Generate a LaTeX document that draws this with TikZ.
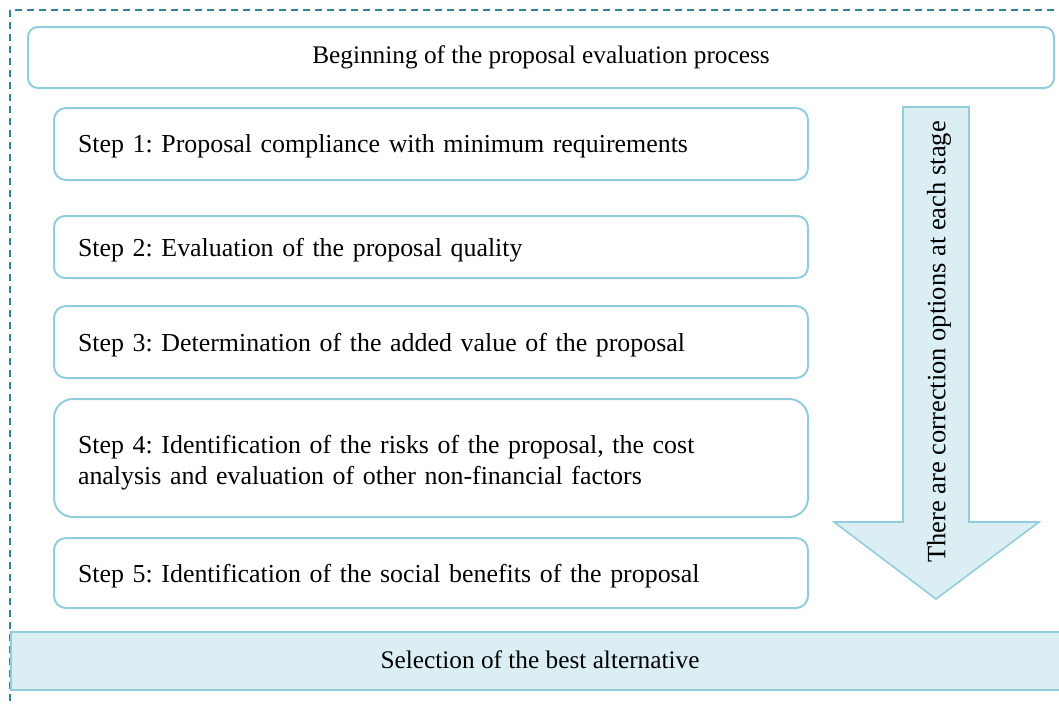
\documentclass[tikz,border=0pt]{standalone}
\usepackage{fontspec}
\setmainfont{Liberation Serif}
\definecolor{bord}{HTML}{31849B}
\definecolor{boxline}{HTML}{92CDDC}
\definecolor{boxfill}{HTML}{DAEEF3}
\frenchspacing
\begin{document}
\begin{tikzpicture}[x=1pt,y=-1pt,
  stepbox/.style={draw=boxline, line width=2pt, minimum width=754pt,
    text width=706pt, inner xsep=24pt, inner ysep=0pt, align=left,
    text depth=0pt, font=\fontsize{25.9}{30.5}\selectfont\frenchspacing},
  headbox/.style={draw=boxline, line width=2pt, rounded corners=10pt,
    minimum width=1026pt, minimum height=61pt, inner sep=0pt,
    font=\fontsize{25.3}{30}\selectfont},
  barbox/.style={draw=boxline, fill=boxfill, line width=2pt,
    minimum width=1059pt, minimum height=58pt, inner sep=0pt},
  bartext/.style={inner sep=0pt, font=\fontsize{25.3}{30}\selectfont},
  arrowshape/.style={draw=boxline, fill=boxfill, line width=1.6pt},
  sidetext/.style={inner sep=0pt, rotate=90, font=\fontsize{26.5}{31}\selectfont},
  frame/.style={draw=bord, line width=2.2pt, dash pattern=on 7pt off 5pt}]
\useasboundingbox (0,0) rectangle (1059,705);
\clip (0,0) rectangle (1059,705);
\draw[frame] (10,10) rectangle (1090,730);
\node[headbox] (head) at (541,57.5) {Beginning of the proposal evaluation process};
\node[stepbox, rounded corners=12pt, minimum height=72pt] (s1) at (431,144) {Step 1: Proposal compliance with minimum requirements};
\node[stepbox, rounded corners=11pt, minimum height=62pt] (s2) at (431,247) {Step 2: Evaluation of the proposal quality};
\node[stepbox, rounded corners=12pt, minimum height=72pt] (s3) at (431,342) {Step 3: Determination of the added value of the proposal};
\node[stepbox, text depth=27pt, rounded corners=19pt, minimum height=118pt] (s4) at (431,458) {Step 4: Identification of the risks of the proposal, the cost\\analysis and evaluation of other non-financial factors};
\node[stepbox, rounded corners=12pt, minimum height=70pt] (s5) at (431,573) {Step 5: Identification of the social benefits of the proposal};
\draw[arrowshape] (903,107) coordinate (a1) -- (969,107) -- (969,522) -- (1039,522) -- (936,599) coordinate (tip) -- (834,522) -- (903,522) -- cycle;
\node[sidetext] (side) at (939,342) {There are correction options at each stage};
\node[barbox] (bar) at (540.5,661) {};
\node[bartext] (bartxt) at (540,660) {Selection of the best alternative};
\end{tikzpicture}
\end{document}
